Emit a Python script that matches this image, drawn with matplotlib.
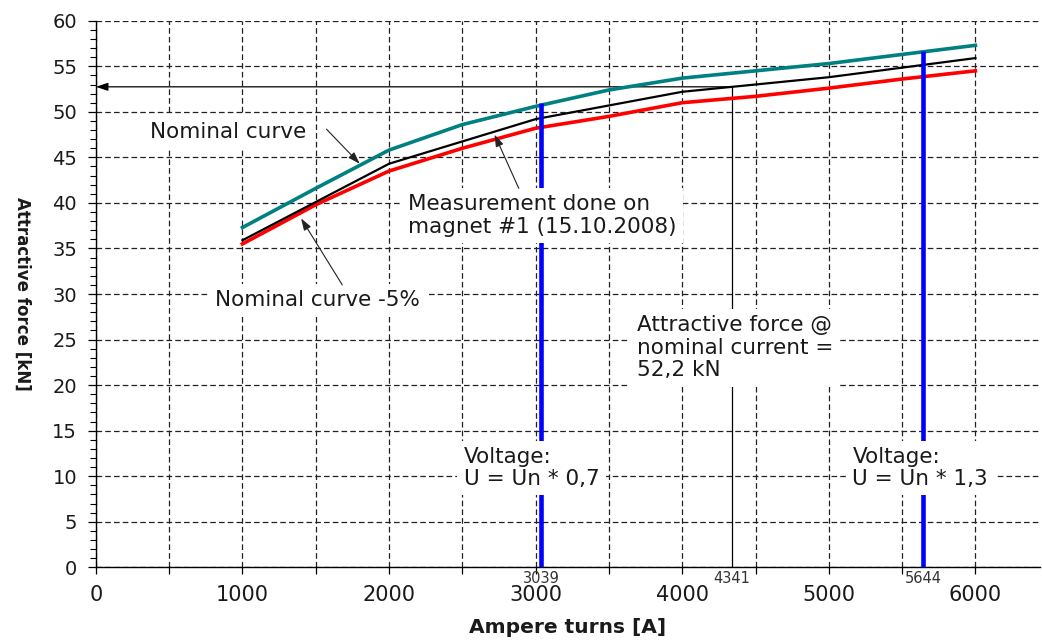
#!/usr/bin/env python
# coding: utf-8

import numpy as np
import matplotlib
matplotlib.use("Agg")
from matplotlib import pyplot as plt
from matplotlib.ticker import MultipleLocator

# Ampere turns [A] / attractive force [kN]
turns = [1000, 1500, 2000, 2500, 3000, 3500, 4000, 4500, 5000, 5500, 6000]
nominal = [37.3, 41.6, 45.8, 48.6, 50.6, 52.4, 53.7, 54.5, 55.3, 56.3, 57.3]
nominal_m5 = [35.5, 39.8, 43.5, 46.0, 48.2, 49.5, 51.0, 51.7, 52.6, 53.6, 54.5]

meas_turns = [1000, 2000, 3000, 4000, 5000, 6000]
measured = [35.9, 44.3, 49.2, 52.2, 53.8, 55.9]

volt_turns = [3039, 5644]
volt_top = [51.0, 56.7]
volt_text = ["Voltage:\nU = Un * 0,7", "Voltage:\nU = Un * 1,3"]
volt_text_pos = [(2509, 10.9), (5161, 10.9)]

nom_turns = 4341
marked_turns = [3039, 4341, 5644]

TXT = "#1a1a1a"
BOX = dict(boxstyle="square,pad=0.3", fc="white", ec="none")
ARROW = dict(arrowstyle="-|>,head_length=0.6,head_width=0.2", color="#222222",
             lw=0.8, mutation_scale=12, shrinkA=0, shrinkB=0)


def main():
    fig = plt.figure(figsize=(10.42, 6.4), dpi=100)
    ax = fig.add_axes([0.092, 0.1136, 0.906, 0.854])

    ax.plot(turns, nominal, color="#008080", lw=2.6, zorder=3)
    ax.plot(turns, nominal_m5, color="#ff0000", lw=2.6, zorder=3)
    ax.plot(meas_turns, measured, color="black", lw=1.6, zorder=4)

    # force at nominal current
    y_nom = np.interp(nom_turns, meas_turns, measured)
    ax.plot([nom_turns, nom_turns], [0, y_nom], color="black", lw=0.9, zorder=2)
    ax.annotate("", xy=(0, y_nom), xytext=(nom_turns, y_nom),
                arrowprops=dict(ARROW, color="black", lw=0.9), zorder=2)

    ax.vlines(volt_turns, 0, volt_top, colors="#0000ff", lw=3.3, zorder=5)

    # labels
    ax.text(900, 47.8, "Nominal curve", ha="center", va="center", fontsize=15.5,
            color=TXT, bbox=BOX, zorder=6)
    ax.annotate("", xy=(1800, 44.3), xytext=(1573, 48.1), arrowprops=ARROW, zorder=6)

    ax.text(1514, 29.3, "Nominal curve -5%", ha="center", va="center", fontsize=15.5,
            color=TXT, bbox=BOX, zorder=6)
    ax.annotate("", xy=(1400, 38.3), xytext=(1681, 31.0), arrowprops=ARROW, zorder=6)

    ax.text(2127, 38.6, "Measurement done on\nmagnet #1 (15.10.2008)", ha="left",
            va="center", fontsize=15.5, color=TXT, bbox=BOX, linespacing=1.15, zorder=6)
    ax.annotate("", xy=(2720, 47.5), xytext=(2885, 41.6), arrowprops=ARROW, zorder=6)

    ax.text(3689, 24.1, "Attractive force @\nnominal current =\n52,2 kN", ha="left",
            va="center", fontsize=15.5, color=TXT, bbox=BOX, linespacing=1.15, zorder=6)

    for (x, y), s in zip(volt_text_pos, volt_text):
        ax.text(x, y, s, ha="left", va="center", fontsize=15.5, color=TXT,
                bbox=BOX, linespacing=1.1, zorder=6)

    for v in marked_turns:
        ax.annotate(str(v), xy=(v, 0), xytext=(0, -8), textcoords="offset points",
                    ha="center", va="center", fontsize=10.5, color="#333333",
                    annotation_clip=False)

    # axes
    ax.set_xlim(0, 6440)
    ax.set_ylim(0, 60)
    ax.xaxis.set_major_locator(MultipleLocator(1000))
    ax.xaxis.set_minor_locator(MultipleLocator(500))
    ax.yaxis.set_major_locator(MultipleLocator(5))
    ax.yaxis.set_minor_locator(MultipleLocator(1))
    ax.spines["top"].set_visible(False)
    ax.spines["right"].set_visible(False)
    for s in ("left", "bottom"):
        ax.spines[s].set_linewidth(1.0)
    ax.tick_params(axis="x", which="both", length=5, width=0.9, direction="out")
    ax.tick_params(axis="x", which="major", labelsize=15, pad=8, labelcolor=TXT)
    ax.tick_params(axis="y", which="major", length=5.5, width=0.9, labelsize=14,
                   pad=8, labelcolor=TXT)
    ax.tick_params(axis="y", which="minor", length=4.2, width=0.8)

    ax.set_axisbelow(True)
    grid_kw = dict(ls=(0, (4.5, 2.5)), color="#222222", lw=0.9)
    ax.grid(True, which="major", axis="both", **grid_kw)
    ax.grid(True, which="minor", axis="x", **grid_kw)

    ax.set_xlabel("Ampere turns [A]", fontsize=14.5, fontweight="bold", color=TXT,
                  va="center")
    ax.xaxis.set_label_coords(0.5, -0.1105)
    ax.set_ylabel("Attractive force [kN]", fontsize=12, fontweight="bold", color=TXT,
                  rotation=270, ha="center", va="center")
    ax.yaxis.set_label_coords(-0.0784, 0.5)

    fig.savefig("out.png", dpi=100, facecolor="white")


if __name__ == "__main__":
    main()
